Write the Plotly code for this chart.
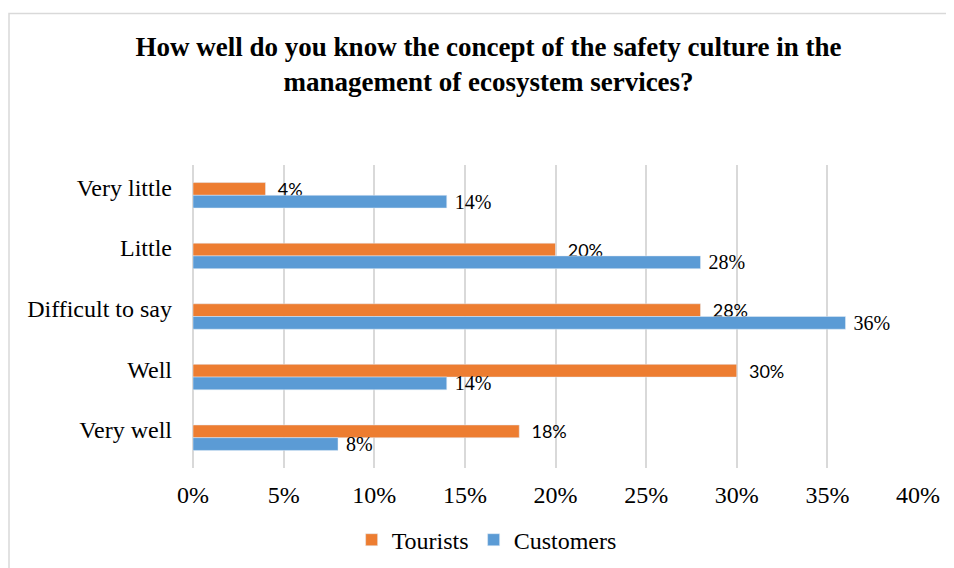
import plotly.graph_objects as go

categories = ["Very little", "Little", "Difficult to say", "Well", "Very well"]
tourists = [4, 20, 28, 30, 18]
customers = [14, 28, 36, 14, 8]
x_ticks = [0, 5, 10, 15, 20, 25, 30, 35, 40]
x_tick_labels = [f"{t}%" for t in x_ticks]

serif = "Liberation Serif, Times New Roman, serif"
nb = "\u00a0"

fig = go.Figure()
fig.add_trace(go.Bar(
    y=categories, x=tourists, name="Tourists", orientation="h",
    marker_color="#ED7D31",
    text=[f"{nb * 2}{v}%" for v in tourists], textposition="outside",
    textfont=dict(family="Lato, Carlito, sans-serif", size=18, color="black"),
    constraintext="none", cliponaxis=False,
))
fig.add_trace(go.Bar(
    y=categories, x=customers, name="Customers", orientation="h",
    marker_color="#5B9BD5",
    text=[f"{nb}{v}%" for v in customers], textposition="outside",
    textfont=dict(family=serif, size=20, color="black"),
    constraintext="none", cliponaxis=False,
))

# the page body has an 8px margin, so the figure is 8px smaller each way
fig.update_layout(
    width=946, height=560,
    margin=dict(l=185, r=36, t=157, b=100, autoexpand=False),
    paper_bgcolor="white", plot_bgcolor="white",
    barmode="group", bargap=0.58, bargroupgap=0,
    font=dict(family=serif, size=24, color="black"),
    title=dict(
        text="<b>How well do you know the concept of the safety culture in the<br>management of ecosystem services?</b>",
        x=0.508, xanchor="center", y=0.914, yanchor="top", yref="container",
        font=dict(family=serif, size=27, color="black"),
    ),
    legend=dict(orientation="h", x=0.405, xanchor="center", y=-0.238, yanchor="middle",
                font=dict(family=serif, size=24), itemwidth=30),
    showlegend=True,
)
fig.update_xaxes(
    range=[0, 40], tickvals=x_ticks, ticktext=x_tick_labels,
    showgrid=True, gridcolor="#d9d9d9", gridwidth=1.5,
    zeroline=True, zerolinecolor="#d9d9d9", zerolinewidth=1.5,
    ticklabelstandoff=10, showline=False,
)
fig.update_yaxes(
    range=[4.5, -0.5], showgrid=False, ticklabelstandoff=20, ticklabelshift=8,
)

# outer chart frame (light gray), cut off on the right and bottom as in the source
fig.add_shape(type="rect", xref="paper", yref="paper",
              x0=-0.2538, x1=1.2, y0=-0.5, y1=1.5,
              line=dict(color="#d9d9d9", width=1.5), layer="below")

fig.write_html("out.html")
